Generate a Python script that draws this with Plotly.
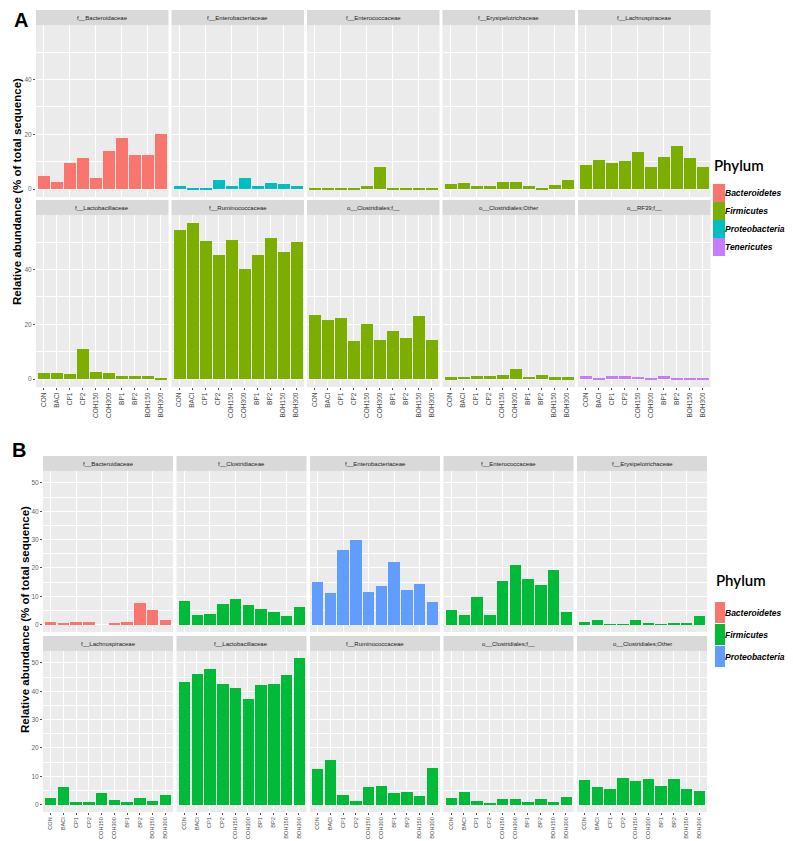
import plotly.graph_objects as go

W, H = 793, 841

CATEGORIES = ["CON", "BACI", "CP1", "CP2", "COH150", "COH300", "BP1", "BP2", "BOH150", "BOH300"]

PHYLA_A = ["Bacteroidetes", "Firmicutes", "Proteobacteria", "Tenericutes"]
COLORS_A = ["#F8766D", "#7CAE00", "#00BFC4", "#C77CFF"]
PHYLA_B = ["Bacteroidetes", "Firmicutes", "Proteobacteria"]
COLORS_B = ["#F8766D", "#00BA38", "#619CFF"]

# panel A
a_bacteroidaceae = [4.9, 2.5, 9.5, 11.5, 4.2, 14.1, 18.5, 12.4, 12.6, 20.2]
a_enterobacteriaceae = [1.0, 0.5, 0.5, 3.4, 1.0, 4.1, 1.0, 2.4, 1.9, 1.0]
a_enterococcaceae = [0.6, 0.25, 0.5, 0.5, 1.0, 8.1, 0.4, 0.2, 0.1, 0.1]
a_erysipelotrichaceae = [1.8, 2.2, 1.2, 1.2, 2.8, 2.7, 1.3, 0.6, 1.5, 3.2]
a_lachnospiraceae = [8.8, 10.7, 9.5, 10.4, 13.5, 8.2, 11.8, 15.6, 11.3, 8.1]
a_lactobacillaceae = [2.4, 2.1, 1.8, 11.0, 2.8, 2.4, 1.0, 1.0, 1.0, 0.5]
a_ruminococcaceae = [54.3, 57.0, 50.5, 45.1, 50.7, 40.2, 45.4, 51.5, 46.3, 49.9]
a_clostridiales_f = [23.4, 21.6, 22.3, 14.0, 20.1, 14.3, 17.6, 14.9, 23.0, 14.3]
a_clostridiales_other = [0.7, 0.85, 1.1, 1.1, 1.7, 3.7, 0.85, 1.5, 0.7, 0.7]
a_rf39 = [1.0, 0.5, 1.2, 1.2, 0.85, 0.5, 1.1, 0.35, 0.5, 0.5]

TAXA_A = [
    ("f__Bacteroidaceae", "Bacteroidetes", a_bacteroidaceae),
    ("f__Enterobacteriaceae", "Proteobacteria", a_enterobacteriaceae),
    ("f__Enterococcaceae", "Firmicutes", a_enterococcaceae),
    ("f__Erysipelotrichaceae", "Firmicutes", a_erysipelotrichaceae),
    ("f__Lachnospiraceae", "Firmicutes", a_lachnospiraceae),
    ("f__Lactobacillaceae", "Firmicutes", a_lactobacillaceae),
    ("f__Ruminococcaceae", "Firmicutes", a_ruminococcaceae),
    ("o__Clostridiales;f__", "Firmicutes", a_clostridiales_f),
    ("o__Clostridiales;Other", "Firmicutes", a_clostridiales_other),
    ("o__RF39;f__", "Tenericutes", a_rf39),
]

# panel B
b_bacteroidaceae = [1.07, 0.6, 0.8, 0.8, 0.0, 0.6, 1.07, 7.5, 5.1, 1.66]
b_clostridiaceae = [8.3, 3.55, 3.7, 7.2, 9.2, 7.0, 5.6, 4.6, 3.1, 6.3]
b_enterobacteriaceae = [15.1, 11.1, 26.2, 29.9, 11.4, 13.5, 22.0, 12.2, 14.4, 8.0]
b_enterococcaceae = [5.1, 3.3, 9.6, 3.3, 15.4, 21.2, 16.1, 14.1, 19.4, 4.3]
b_erysipelotrichaceae = [1.07, 1.8, 0.2, 0.05, 1.5, 0.35, 0.2, 0.35, 0.6, 3.2]
b_lachnospiraceae = [2.5, 6.2, 0.8, 1.06, 4.0, 1.5, 0.94, 2.35, 1.2, 3.3]
b_lactobacillaceae = [43.1, 46.2, 48.0, 42.6, 41.1, 37.2, 42.1, 42.4, 45.6, 51.6]
b_ruminococcaceae = [12.7, 15.8, 3.5, 1.4, 6.2, 6.7, 4.2, 4.35, 2.9, 12.9]
b_clostridiales_f = [2.35, 4.6, 1.4, 0.5, 2.1, 1.9, 0.8, 2.0, 0.8, 2.7]
b_clostridiales_other = [8.8, 6.2, 5.4, 9.5, 8.35, 9.2, 6.7, 8.9, 5.65, 4.9]

TAXA_B = [
    ("f__Bacteroidaceae", "Bacteroidetes", b_bacteroidaceae),
    ("f__Clostridiaceae", "Firmicutes", b_clostridiaceae),
    ("f__Enterobacteriaceae", "Proteobacteria", b_enterobacteriaceae),
    ("f__Enterococcaceae", "Firmicutes", b_enterococcaceae),
    ("f__Erysipelotrichaceae", "Firmicutes", b_erysipelotrichaceae),
    ("f__Lachnospiraceae", "Firmicutes", b_lachnospiraceae),
    ("f__Lactobacillaceae", "Firmicutes", b_lactobacillaceae),
    ("f__Ruminococcaceae", "Firmicutes", b_ruminococcaceae),
    ("o__Clostridiales;f__", "Firmicutes", b_clostridiales_f),
    ("o__Clostridiales;Other", "Firmicutes", b_clostridiales_other),
]

SANS = "Liberation Sans, Arial, sans-serif"
LEGEND_FONT = "Lato, Open Sans, sans-serif"

# pixel layout for each panel
PANELS = [
    dict(label="A", taxa=TAXA_A, phyla=PHYLA_A, colors=COLORS_A,
         col_x=[28, 163.5, 299, 434.5, 570], col_w=132.5,
         strips=[(2, 17), (192, 207)], plots=[(17, 189), (207, 379)],
         major=20, minor=10, label_xy=(13, 12), title_xy=(9, 184), tick_size=6.5,
         legend_title_y=157, key_x=(705, 717), key_top=176, key_h=18, key_step=18),
    dict(label="B", taxa=TAXA_B, phyla=PHYLA_B, colors=COLORS_B,
         col_x=[35, 168.5, 302, 435.5, 569], col_w=130,
         strips=[(448, 463), (628, 643)], plots=[(463, 624), (643, 804)],
         major=10, minor=5, label_xy=(11, 442), title_xy=(17, 612), tick_size=5.6,
         legend_title_y=572, key_x=(707, 717), key_top=594, key_h=21, key_step=22),
]


def px_x(x):
    return x / W


def px_y(y):
    return 1 - y / H


fig = go.Figure()
layout = {}
shapes = []
annotations = []

idx = 0
for panel in PANELS:
    ymax = max(max(vals) for _, _, vals in panel["taxa"])
    yrange = [-0.05 * ymax, 1.05 * ymax]
    color_of = dict(zip(panel["phyla"], panel["colors"]))
    for k, (name, phylum, vals) in enumerate(panel["taxa"]):
        idx += 1
        row, col = divmod(k, 5)
        x0 = panel["col_x"][col]
        x1 = x0 + panel["col_w"]
        p_top, p_bot = panel["plots"][row]
        s_top, s_bot = panel["strips"][row]
        xa = "xaxis" if idx == 1 else f"xaxis{idx}"
        ya = "yaxis" if idx == 1 else f"yaxis{idx}"
        xref = "x" if idx == 1 else f"x{idx}"
        yref = "y" if idx == 1 else f"y{idx}"

        fig.add_trace(go.Bar(
            x=CATEGORIES, y=vals, width=0.9,
            marker=dict(color=color_of[phylum], line=dict(width=0)),
            xaxis=xref, yaxis=yref, showlegend=False,
            hovertemplate=f"{name}<br>%{{x}}: %{{y}}<extra></extra>",
        ))

        layout[xa] = dict(
            domain=[px_x(x0), px_x(x1)], anchor=yref, type="category",
            categoryorder="array", categoryarray=CATEGORIES, range=[-0.6, 9.6],
            showgrid=True, gridcolor="white", gridwidth=1, zeroline=False,
            showline=False, ticks="outside" if row == 1 else "", ticklen=2,
            tickcolor="#555555", showticklabels=(row == 1), tickangle=-90,
            tickfont=dict(family=SANS, size=panel["tick_size"], color="#4D4D4D"),
            automargin=False,
        )
        layout[ya] = dict(
            domain=[px_y(p_bot), px_y(p_top)], anchor=xref, range=yrange,
            tick0=0, dtick=panel["major"], showgrid=True, gridcolor="white",
            gridwidth=1, zeroline=False, showline=False,
            minor=dict(dtick=panel["minor"], tick0=0, showgrid=True,
                       gridcolor="white", gridwidth=0.5),
            ticks="outside" if col == 0 else "", ticklen=2, tickcolor="#555555",
            showticklabels=(col == 0),
            tickfont=dict(family=SANS, size=6.5, color="#666666"), automargin=False,
        )

        shapes.append(dict(type="rect", xref="paper", yref="paper",
                           x0=px_x(x0), x1=px_x(x1), y0=px_y(s_bot), y1=px_y(s_top),
                           fillcolor="#D9D9D9", line=dict(width=0), layer="below"))
        annotations.append(dict(x=px_x((x0 + x1) / 2), y=px_y((s_top + s_bot) / 2),
                                xref="paper", yref="paper", text=name, showarrow=False,
                                font=dict(family=SANS, size=6, color="#1A1A1A"),
                                xanchor="center", yanchor="middle"))

    # panel letter
    lx, ly = panel["label_xy"]
    annotations.append(dict(x=px_x(lx), y=px_y(ly), xref="paper", yref="paper",
                            text=f"<b>{panel['label']}</b>", showarrow=False,
                            font=dict(family=SANS, size=20, color="black"),
                            xanchor="center", yanchor="middle"))
    # y axis title
    tx, ty = panel["title_xy"]
    annotations.append(dict(x=px_x(tx), y=px_y(ty), xref="paper", yref="paper",
                            text="Relative abundance (% of total sequence)",
                            showarrow=False, textangle=-90,
                            font=dict(family=SANS, size=11.5, color="black", weight=600),
                            xanchor="center", yanchor="middle"))
    # legend
    kx0, kx1 = panel["key_x"]
    annotations.append(dict(x=px_x(kx0 - 1), y=px_y(panel["legend_title_y"]),
                            xref="paper", yref="paper", text="Phylum", showarrow=False,
                            font=dict(family=LEGEND_FONT, size=15, color="black",
                                      weight=600),
                            xanchor="left", yanchor="middle"))
    for i, (ph, colr) in enumerate(zip(panel["phyla"], panel["colors"])):
        top = panel["key_top"] + i * panel["key_step"]
        bot = top + panel["key_h"]
        shapes.append(dict(type="rect", xref="paper", yref="paper",
                           x0=px_x(kx0), x1=px_x(kx1), y0=px_y(bot), y1=px_y(top),
                           fillcolor=colr, line=dict(width=0)))
        annotations.append(dict(x=px_x(716), y=px_y((top + bot) / 2), xref="paper",
                                yref="paper", text=ph, showarrow=False, borderpad=0,
                                font=dict(family=SANS, size=8.5, color="black",
                                          weight="bold", style="italic"),
                                xanchor="left", yanchor="middle"))

fig.update_layout(
    width=W, height=H, margin=dict(l=0, r=0, t=0, b=0),
    paper_bgcolor="white", plot_bgcolor="#EBEBEB",
    shapes=shapes, annotations=annotations, bargap=0, showlegend=False,
    **layout,
)

fig.write_html("out.html")
